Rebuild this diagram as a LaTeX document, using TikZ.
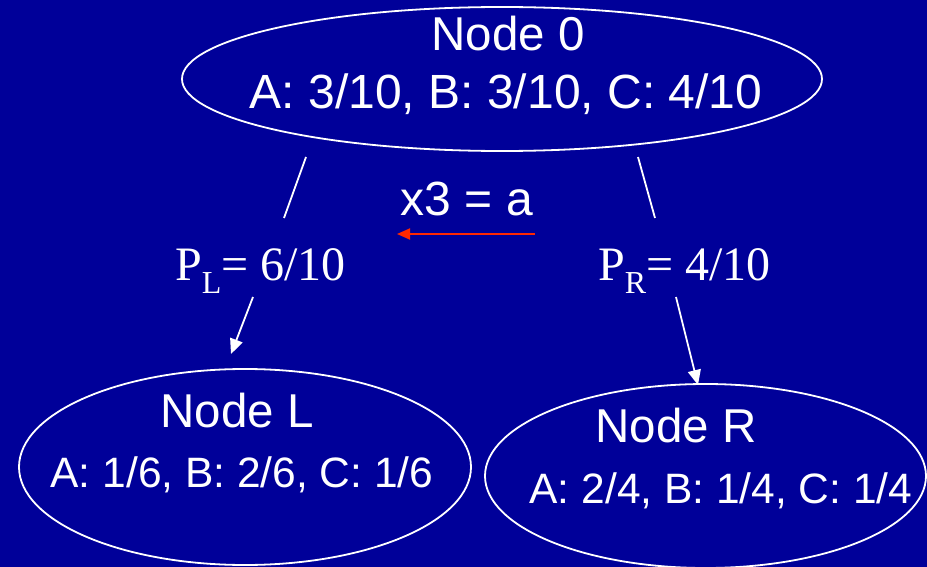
\documentclass[tikz,border=0pt]{standalone}
\usepackage{fontspec}
\setmainfont{Liberation Sans}
\newfontfamily\timesfont{Liberation Serif}
\usetikzlibrary{shapes.geometric,arrows.meta}
\definecolor{slideblue}{RGB}{0,0,153}
\definecolor{splitred}{RGB}{255,40,0}
\tikzset{
  treenode/.style={ellipse, draw=white, line width=1.8pt, inner sep=0pt},
  caption/.style={anchor=base, inner sep=0pt, text=white},
  title/.style={caption, font=\fontsize{47.5}{47.5}\selectfont},
  counts/.style={caption, font=\fontsize{48}{48}\selectfont},
  smallcounts/.style={caption, font=\fontsize{42.5}{42.5}\selectfont},
  prob/.style={caption, font=\timesfont\fontsize{48}{48}\selectfont},
  branch/.style={draw=white, line width=1.8pt},
  brancharrow/.style={branch, -{Triangle[length=15pt,width=13pt]}},
  splitarrow/.style={draw=splitred, line width=1.8pt, -{Triangle[length=13pt,width=11pt]}}
}
\newcommand{\subsc}[1]{\raisebox{-0.28em}{\fontsize{32}{32}\selectfont #1}}
\begin{document}
\begin{tikzpicture}[x=1pt, y=-1pt]
  \fill[slideblue] (0,0) rectangle (927,567);
  \useasboundingbox (0,0) rectangle (927,567);

  % tree nodes
  \node[treenode, minimum width=640pt, minimum height=144pt] (n0) at (502,79) {};
  \node[treenode, minimum width=452pt, minimum height=196pt] (nl) at (245,467) {};
  \node[treenode, minimum width=441pt, minimum height=184pt] (nr) at (705.5,476) {};

  % node captions
  \node[title]  (n0t) at (508,51)  {Node 0};
  \node[counts] (n0c) at (506,109) {A: 3/10, B: 3/10, C: 4/10};
  \node[title]  (nlt) at (237,427) {Node L};
  \node[smallcounts] (nlc) at (242,487) {A: 1/6, B: 2/6, C: 1/6};
  \node[title]  (nrt) at (676,442) {Node R};
  \node[smallcounts] (nrc) at (721,503) {A: 2/4, B: 1/4, C: 1/4};

  % split test and branch probabilities
  \node[counts] (test) at (467,215) {x3 = a};
  \node[prob, anchor=base west] (pl) at (175,280) {P\subsc{L}= 6/10};
  \node[prob, anchor=base west] (pr) at (598,280) {P\subsc{R}= 4/10};

  % branch end points
  \coordinate (l0) at (306,157);
  \coordinate (l1) at (284,218);
  \coordinate (l2) at (253,297);
  \coordinate (l3) at (231,354);
  \coordinate (r0) at (638,157);
  \coordinate (r1) at (655,218);
  \coordinate (r2) at (676,297);
  \coordinate (r3) at (698,385);
  \coordinate (a0) at (535,234);
  \coordinate (a1) at (397,234);

  % branches
  \path[branch] (l0) -- (l1);
  \path[brancharrow] (l2) -- (l3);
  \path[branch] (r0) -- (r1);
  \path[brancharrow] (r2) -- (r3);
  \path[splitarrow] (a0) -- (a1);
\end{tikzpicture}
\end{document}
